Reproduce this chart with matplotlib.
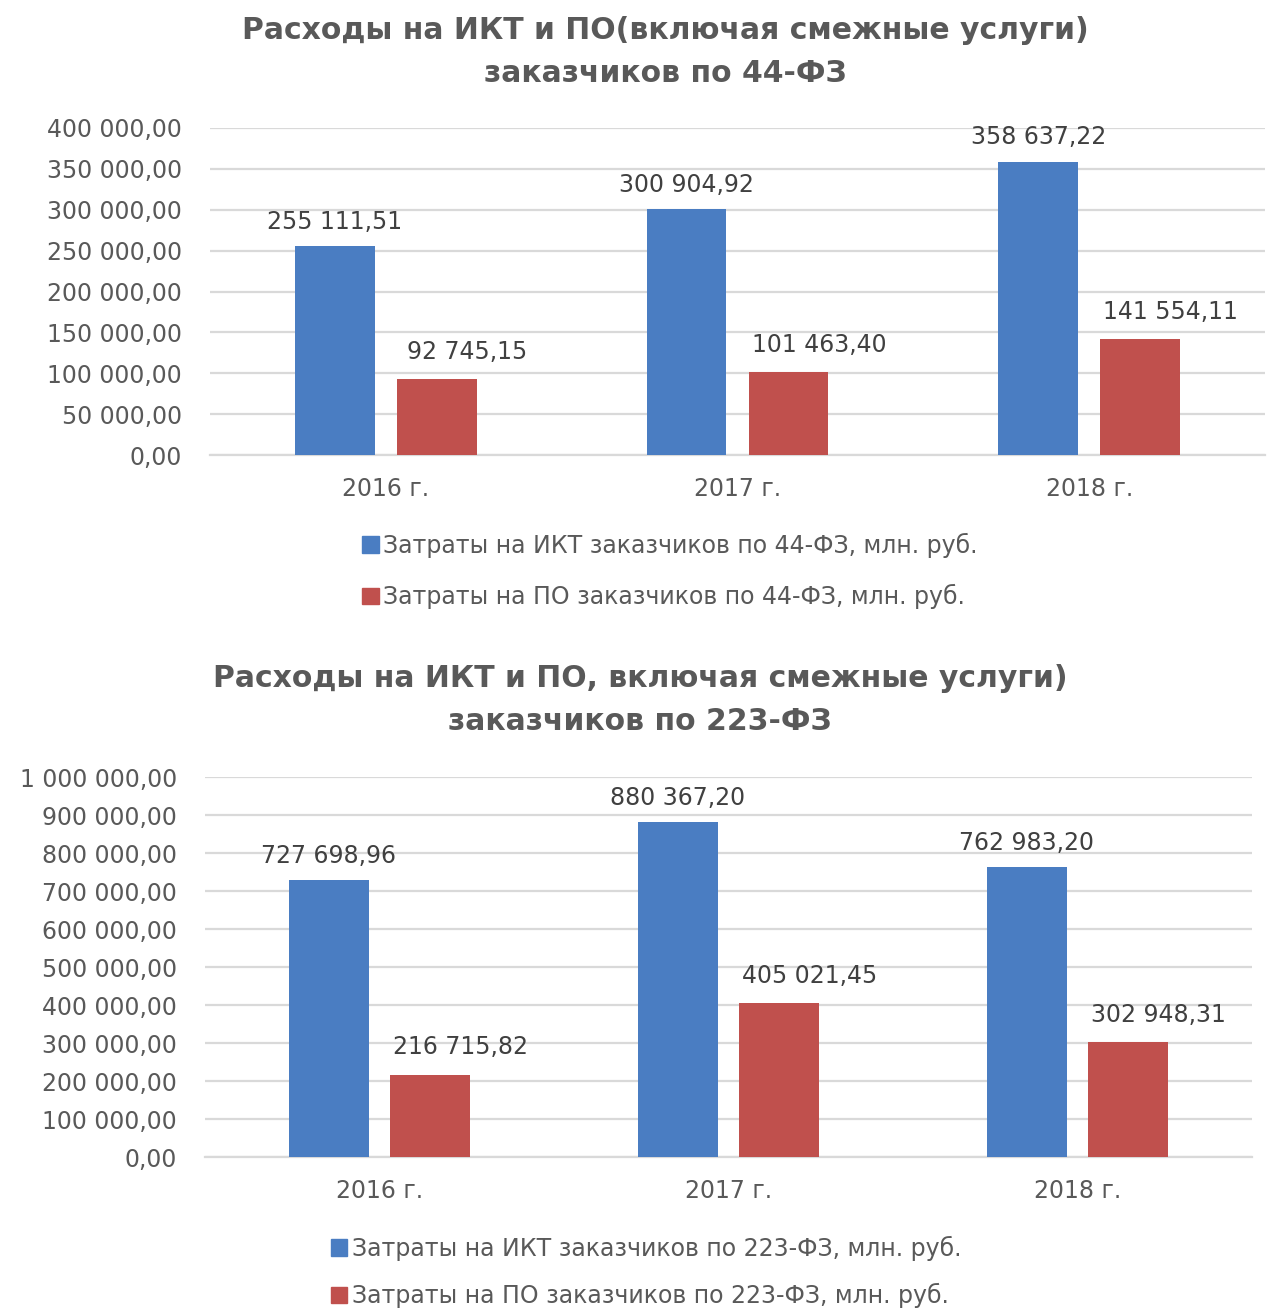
import matplotlib
matplotlib.use("Agg")
import matplotlib.pyplot as plt
from matplotlib.patches import Patch
import numpy as np

plt.rcParams['font.family'] = ['DejaVu Sans']

categories = ["2016 г.", "2017 г.", "2018 г."]

ikt_44 = [255111.51, 300904.92, 358637.22]
po_44 = [92745.15, 101463.40, 141554.11]
ikt_223 = [727698.96, 880367.20, 762983.20]
po_223 = [216715.82, 405021.45, 302948.31]

title_44 = "Расходы на ИКТ и ПО(включая смежные услуги)\nзаказчиков по 44-ФЗ"
title_223 = "Расходы на ИКТ и ПО, включая смежные услуги)\nзаказчиков по 223-ФЗ"
leg_44 = ["Затраты на ИКТ заказчиков по 44-ФЗ, млн. руб.",
          "Затраты на ПО заказчиков по 44-ФЗ, млн. руб."]
leg_223 = ["Затраты на ИКТ заказчиков по 223-ФЗ, млн. руб.",
           "Затраты на ПО заказчиков по 223-ФЗ, млн. руб."]

BLUE = "#4A7DC2"
RED = "#C0504D"
GRID = "#D9D9D9"
TXT = "#595959"
LBL = "#404040"


def rus(v):
    s = f"{v:,.2f}"
    return s.replace(",", " ").replace(".", ",")


fig = plt.figure(figsize=(12.67, 13.09), dpi=100)


def draw(ax, a, b, ymax, step, title, tx, ty, legs, lx, ly, ls):
    x = np.arange(len(categories))
    w = 0.227
    off = 0.145
    ba = ax.bar(x - off, a, w, color=BLUE, zorder=3)
    bb = ax.bar(x + off, b, w, color=RED, zorder=3)
    for rect, v in zip(ba, a):
        ax.annotate(rus(v), (rect.get_x() + rect.get_width() / 2, rect.get_height()),
                    xytext=(0, 9), textcoords="offset points", ha="center", va="bottom",
                    fontsize=17, color=LBL)
    for rect, v in zip(bb, b):
        ax.annotate(rus(v), (rect.get_x() + rect.get_width() / 2, rect.get_height()),
                    xytext=(22, 11), textcoords="offset points", ha="center", va="bottom",
                    fontsize=17, color=LBL)
    ax.set_xlim(-0.5, len(categories) - 0.5)
    ax.set_ylim(0, ymax)
    ticks = np.arange(0, ymax + 1, step)
    ax.set_yticks(ticks)
    ax.set_yticklabels([rus(t) for t in ticks], fontsize=17, color=TXT)
    ax.set_xticks(x)
    ax.set_xticklabels(categories, fontsize=17, color=TXT)
    ax.tick_params(axis="both", length=0)
    ax.tick_params(axis="y", pad=20)
    ax.tick_params(axis="x", pad=16)
    ax.yaxis.grid(True, color=GRID, lw=1.6, zorder=0)
    ax.set_axisbelow(True)
    for s in ["top", "right", "left"]:
        ax.spines[s].set_visible(False)
    ax.spines["bottom"].set_color(GRID)
    ax.spines["bottom"].set_linewidth(1.6)
    fig.text(tx, ty, title, ha="center", va="center", fontsize=21.5, fontweight="bold",
             color=TXT, linespacing=1.6)
    handles = [Patch(color=BLUE), Patch(color=RED)]
    fig.legend(handles, legs, loc="center", bbox_to_anchor=(lx, ly), frameon=False,
               fontsize=17, labelcolor=TXT, handlelength=0.7, handleheight=0.7,
               handletextpad=0.2, labelspacing=ls, ncol=1, borderpad=0.1)


ax1 = fig.add_axes([210 / 1267, 1 - 455 / 1309, 1055 / 1267, 327 / 1309])
draw(ax1, ikt_44, po_44, 400000, 50000, title_44, 665 / 1267, 1 - 52 / 1309,
     leg_44, 670 / 1267, 1 - 571 / 1309, 1.1)

ax2 = fig.add_axes([205 / 1267, 1 - 1157 / 1309, 1047 / 1267, 380 / 1309])
draw(ax2, ikt_223, po_223, 1000000, 100000, title_223, 640 / 1267, 1 - 700 / 1309,
     leg_223, 646 / 1267, 1 - 1272 / 1309, 0.95)

fig.savefig("out.png", dpi=100, facecolor="white")
